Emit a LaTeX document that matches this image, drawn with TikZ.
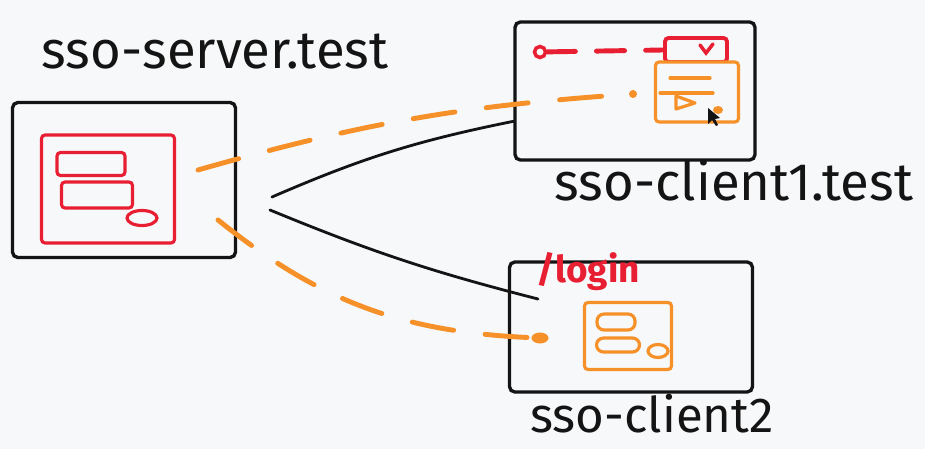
\documentclass[tikz,border=0pt]{standalone}
\usepackage{fontspec}
\setmainfont{Fira Sans}
\usepackage{xcolor}
\usetikzlibrary{shapes.geometric}

\definecolor{bg}{RGB}{247,248,250}
\definecolor{ink}{RGB}{20,20,20}
\definecolor{pen}{RGB}{232,30,50}
\definecolor{marker}{RGB}{245,145,40}

\tikzset{
    box/.style={draw=ink, line width=1.9pt, rounded corners=3pt, inner sep=0pt},
    redbox/.style={draw=pen, line width=1.8pt, rounded corners=2pt, inner sep=0pt},
    orangebox/.style={draw=marker, line width=1.8pt, rounded corners=2pt, inner sep=0pt},
    hand/.style={text=ink, font=\fontsize{30}{32}\selectfont},
    wire/.style={draw=ink, line width=1.6pt, line cap=round},
    dashwire/.style={draw=marker, line width=2.8pt, line cap=round, dash pattern=on 24pt off 18pt},
}

\begin{document}
\begin{tikzpicture}[x=0.02cm, y=-0.02cm]
        % canvas
        \fill[bg] (0,0) rectangle (925,449);
        \useasboundingbox (0,0) rectangle (925,449);

        % sso-server.test
        \node[hand] (serverlabel) at (215,52) {sso-server.test};
        \node[box, minimum width=4.46cm, minimum height=3.1cm] (server) at (124,180) {};
        \node[redbox, minimum width=2.66cm, minimum height=2.16cm] (form) at (108,189) {};
        \node[redbox, minimum width=1.36cm, minimum height=0.46cm] (field1) at (91,164) {};
        \node[redbox, minimum width=1.42cm, minimum height=0.52cm] (field2) at (97,195) {};
        \node[ellipse, draw=pen, line width=1.8pt, minimum width=0.6cm, minimum height=0.3cm, inner sep=0pt] (submit) at (142,218) {};

        % sso-client1.test
        \node[box, minimum width=4.8cm, minimum height=2.76cm] (client1) at (635,91) {};
        \node[hand] (client1label) at (734,180) {sso-client1.test};
        \node[circle, draw=pen, line width=2pt, minimum size=0.22cm, inner sep=0pt] (redirect) at (540,52) {};
        \node[redbox, line width=2.2pt, minimum width=1.24cm, minimum height=0.48cm] (check) at (696,50) {};
        \draw[pen, line width=2pt, line cap=round] (700,45) -- (706,53) -- (713,44); % tick
        \node[orangebox, fill=bg, minimum width=1.66cm, minimum height=1.2cm] (popup) at (697,92) {};
        \draw[marker, line width=1.8pt, line cap=round] (670,78) -- (710,78);
        \draw[marker, line width=1.8pt, line cap=round] (660,93) -- (713,93);
        \draw[marker, line width=1.8pt, line join=round] (676,96) -- (695,103) -- (676,109) -- cycle; % play
        \fill[marker] (718,110) ellipse (5 and 4);
        \coordinate (popupdot) at (633,94);
        \draw[pen, line width=2.8pt, line cap=round, dash pattern=on 16pt off 12pt] (redirect) -- (check.west);

        % mouse pointer
        \fill[ink] (708,108) -- (708,124) -- (712,120) -- (716,126) -- (718,125) -- (715,119) -- (720,118) -- cycle;

        % sso-client2
        \node[box, minimum width=4.86cm, minimum height=2.6cm] (client2) at (631,327) {};
        \node[hand, font=\fontsize{28}{30}\selectfont] (client2label) at (652,414) {sso-client2};
        \node[text=pen, font=\fontsize{21}{22}\selectfont\bfseries] (login) at (588,272) {/login};
        \node[orangebox, minimum width=1.74cm, minimum height=1.34cm] (card) at (628,336) {};
        \node[orangebox, rounded corners=4pt, minimum width=0.76cm, minimum height=0.32cm] (cardrow1) at (616,322) {};
        \node[orangebox, rounded corners=4pt, minimum width=0.86cm, minimum height=0.28cm] (cardrow2) at (618,345) {};
        \node[ellipse, draw=marker, line width=1.8pt, minimum width=0.4cm, minimum height=0.26cm, inner sep=0pt] (cardbtn) at (658,351) {};
        \node[ellipse, fill=marker, minimum width=0.34cm, minimum height=0.22cm, inner sep=0pt] (landing) at (540,338) {};

        % links
        \coordinate (hubtop) at (272,197);
        \coordinate (hubbot) at (270,210);
        \coordinate (c2corner) at (538,299);
        \draw[wire] (hubtop) to[bend left=6] (client1.194);
        \draw[wire] (hubbot) to[bend right=4] (c2corner);
        \coordinate (ssostart) at (198,170);
        \coordinate (ssostart2) at (218,220);
        \draw[dashwire] (ssostart) to[bend left=6] (popupdot);
        \fill[marker] (popupdot) circle (4);
        \draw[dashwire] (ssostart2) to[bend right=18] (landing);
    \end{tikzpicture}
\end{document}
